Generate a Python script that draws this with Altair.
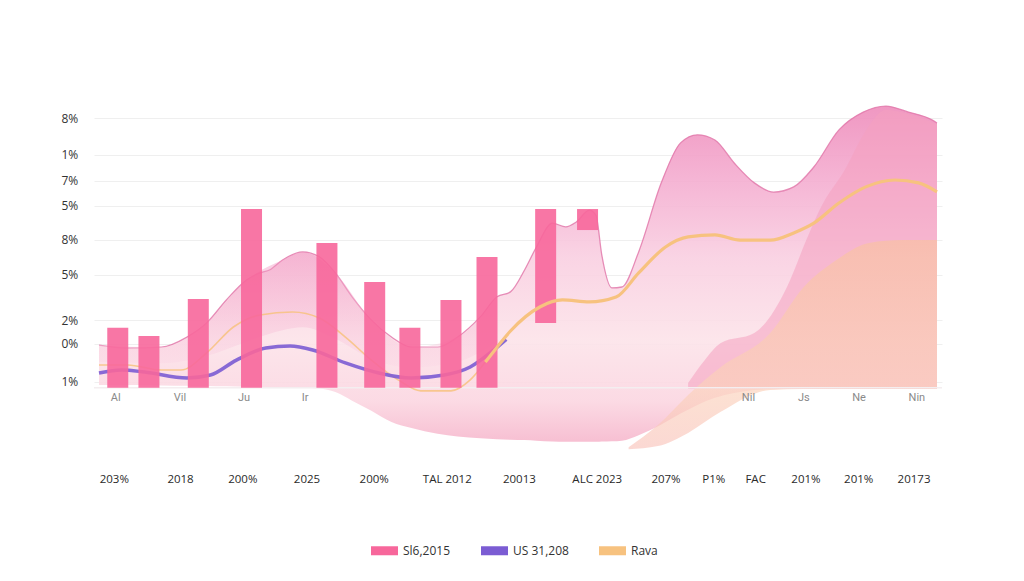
import json
import altair as alt
import pandas as pd

FONT = "Open Sans"

# ---------------- axis ticks / labels ----------------
y_tick_vals = [93.7, 80.9, 71.9, 63.2, 51.4, 39.2, 23.5, 15.2, 2.0]
y_tick_labels = ["8%", "1%", "7%", "5%", "8%", "5%", "2%", "0%", "1%"]

x_tick_vals = [1.77, 9.67, 17.1, 24.76, 32.78, 41.5, 50.1, 59.4, 67.6, 73.3, 78.3, 84.3, 90.6, 97.2]
x_tick_labels = ["203%", "2018", "200%", "2025", "200%", "TAL 2012", "20013",
                 "ALC 2023", "207%", "P1%", "FAC", "201%", "201%", "20173"]

top_label_x = [2.0, 9.67, 17.3, 24.6, 77.5, 84.1, 90.7, 97.6]
top_labels = ["Al", "Vil", "Ju", "Ir", "Nil", "Js", "Ne", "Nin"]

series_names = ["Sl6,2015", "US 31,208", "Rava"]
series_colors = ["#f7679b", "#7b5cd3", "#f7c27f"]

# ---------------- bars ----------------
bar_x = [2.24, 5.96, 11.85, 18.2, 27.2, 32.9, 37.1, 42.0, 46.3, 53.3, 58.3]
bar_top = [20.8, 18.0, 30.8, 62.1, 50.3, 36.7, 20.8, 30.5, 45.4, 62.1, 62.1]
bar_bottom = [0, 0, 0, 0, 0, 0, 0, 0, 0, 22.5, 54.8]

# ---------------- main pink area ----------------
main_x = [0, 3.42, 7.43, 10.5, 12.85, 15.2, 17.6, 19.2, 20.4, 21.9, 24.3, 26.3, 28.2, 30.2,
          32.5, 34.9, 37.3, 40.4, 42.8, 45.5, 47.5, 49.1, 50.8, 52.2, 54.1, 55.7, 56.96,
          58.5, 59.3, 60.0, 61.2, 62.4, 64.4, 67.1, 69.4, 71.4, 73.5, 75.8, 78.2, 80.5,
          82.9, 85.3, 88.3, 91.2, 93.9, 96.6, 99.4, 100]
main_top = [14.8, 13.8, 14.1, 17.6, 22.5, 30.5, 37.4, 39.9, 41.0, 44.4, 47.2, 45.5, 39.9, 31.6,
            23.5, 17.6, 14.1, 14.1, 17.6, 24.6, 31.6, 33.3, 41.0, 48.9, 57.2, 55.9, 57.6,
            61.7, 60.0, 46.1, 34.7, 35.0, 47.2, 71.2, 85.1, 87.9, 86.1, 78.1, 71.2, 68.0,
            69.8, 76.7, 89.6, 95.8, 97.9, 95.8, 93.1, 92.0]
main_bottom = [0.9, 0.9, 0.8, 0.7, 0.6, 0.5, 0.3, 0.2, 0.2, 0.1, 0.0, -0.3, -1.5, -4.5,
               -8.0, -11.9, -14.0, -16.0, -17.0, -17.6, -17.9, -18.1, -18.2, -18.4, -18.7, -18.8, -18.8,
               -18.8, -18.8, -18.7, -18.6, -18.4, -16.5, -12.8, -9.0, -6.0, -3.5, -1.8, -0.8, -0.5,
               -0.45, -0.45, -0.45, -0.45, -0.45, -0.45, -0.45, -0.45]

# ---------------- left pink lobe (deeper pink band under the left hump) ----------------
lobe_x = [0, 7.43, 12.85, 17.6, 21.9, 24.3, 28.2, 32.5, 37.3, 42.8, 47.5]
lobe_top = [14.8, 14.1, 22.5, 37.4, 44.4, 47.2, 39.9, 23.5, 14.1, 17.6, 31.6]
lobe_bottom = [9.0, 8.5, 11.0, 16.0, 20.0, 21.0, 17.0, 10.0, 7.0, 9.0, 16.0]

# ---------------- right pink band ----------------
band_x = [70.3, 72.3, 74.2, 78.2, 82.1, 84.4, 85.97, 89.2, 91.2, 93.9, 96.6, 100]
band_top = [1.6, 9.6, 15.5, 19.0, 35.0, 51.3, 61.7, 76.7, 87.8, 96.5, 95.1, 91.6]
band_bottom = [-0.45] * 12

# ---------------- peach area ----------------
peach_x = [63.2, 66.7, 70.3, 74.2, 80.1, 84.1, 88.0, 91.9, 95.9, 100]
peach_top = [-20.7, -13.0, -2.5, 7.2, 19.0, 35.0, 44.4, 50.3, 51.3, 51.3]
peach_bottom = [-21.4, -20.3, -15.7, -8.4, -0.8, -0.45, -0.45, -0.45, -0.45, -0.45]

# ---------------- lines ----------------
orange_thin_x = [0, 3.42, 7.43, 9.79, 12.85, 16.04, 19.22, 23.1, 26.3, 29.4, 32.5, 35.7, 38.4, 42.0, 44.3, 46.1]
orange_thin_y = [7.9, 7.9, 6.15, 6.15, 12.1, 21.1, 25.3, 26.3, 24.2, 17.6, 9.6, 2.7, -1.1, -1.1, 2.7, 8.9]

orange_x = [46.1, 47.5, 49.1, 52.6, 55.3, 58.5, 61.7, 64.4, 67.6, 70.3, 73.5, 76.5, 80.1,
            82.9, 85.3, 88.3, 91.5, 95.0, 97.8, 100]
orange_y = [8.9, 14.1, 19.7, 28.05, 30.5, 29.8, 31.5, 39.9, 48.9, 52.4, 53.1, 51.3, 51.3,
            53.8, 57.2, 64.2, 69.8, 72.2, 71.2, 68.1]

purple_x = [0, 2.71, 5.42, 10.5, 13.3, 16.4, 19.9, 22.8, 25.5, 29.4, 33.4, 37.3, 41.2, 44.3, 47.1, 48.6]
purple_y = [5.1, 6.15, 5.46, 3.37, 4.4, 9.6, 13.8, 14.5, 13.1, 8.6, 5.1, 3.37, 4.4, 7.2, 13.1, 16.8]

# ---------------- build ----------------
xs = alt.Scale(domain=[0, 100], nice=False, zero=False)
ys = alt.Scale(domain=[-22, 100], nice=False, zero=False)

y_expr = f"{json.dumps(y_tick_labels)}[indexof({json.dumps(y_tick_vals)}, datum.value)]"
x_expr = f"{json.dumps(x_tick_labels)}[indexof({json.dumps(x_tick_vals)}, datum.value)]"

x_axis = alt.Axis(values=x_tick_vals, labelExpr=x_expr, title=None, domain=False, ticks=False,
                  tickSize=0, grid=False, labelPadding=22, labelFont=FONT, labelFontSize=11.5,
                  labelColor="#2a2a2a", labelOverlap=False, labelFlush=False)
y_axis = alt.Axis(values=y_tick_vals, labelExpr=y_expr, title=None, domain=False, ticks=False,
                  tickSize=0, grid=True, gridColor="#efefef", gridWidth=1, labelAlign="left",
                  labelBaseline="middle", labelPadding=33, labelFont=FONT, labelFontSize=12,
                  labelColor="#333333", labelOverlap=False, labelFlush=False)

main_df = pd.DataFrame({"x": main_x, "top": main_top, "bottom": main_bottom})
lobe_df = pd.DataFrame({"x": lobe_x, "top": lobe_top, "bottom": lobe_bottom})
band_df = pd.DataFrame({"x": band_x, "top": band_top, "bottom": band_bottom})
peach_df = pd.DataFrame({"x": peach_x, "top": peach_top, "bottom": peach_bottom})
bars_df = pd.DataFrame({"x": bar_x, "top": bar_top, "bottom": bar_bottom,
                        "series": [series_names[0]] * len(bar_x)})
othin_df = pd.DataFrame({"x": orange_thin_x, "y": orange_thin_y})
orange_df = pd.DataFrame({"x": orange_x, "y": orange_y})
purple_df = pd.DataFrame({"x": purple_x, "y": purple_y})
toplab_df = pd.DataFrame({"x": top_label_x, "label": top_labels, "y": [-3.6] * len(top_labels)})
base_df = pd.DataFrame({"y": [0]})

main_grad = alt.Gradient(
    gradient="linear", x1=1, x2=1, y1=0, y2=1,
    stops=[alt.GradientStop(color="#ee8cbb", offset=0.0),
           alt.GradientStop(color="#f4add0", offset=0.22),
           alt.GradientStop(color="#f9cfe1", offset=0.45),
           alt.GradientStop(color="#fce3e9", offset=0.7),
           alt.GradientStop(color="#fbd6e1", offset=0.88),
           alt.GradientStop(color="#f6b8cd", offset=1.0)])

lobe_grad = alt.Gradient(
    gradient="linear", x1=1, x2=1, y1=0, y2=1,
    stops=[alt.GradientStop(color="#f08fbd", offset=0.0),
           alt.GradientStop(color="#fbd9e6", offset=1.0)])

peach_grad = alt.Gradient(
    gradient="linear", x1=1, x2=1, y1=0, y2=1,
    stops=[alt.GradientStop(color="#f9c2a0", offset=0.0),
           alt.GradientStop(color="#fbd2ba", offset=0.7),
           alt.GradientStop(color="#f9c3bb", offset=1.0)])

main_area = alt.Chart(main_df).mark_area(
    interpolate="monotone", color=main_grad, opacity=0.9,
    line={"color": "#e27aab", "strokeWidth": 1.3, "opacity": 0.85}
).encode(
    x=alt.X("x:Q", scale=xs, axis=x_axis),
    y=alt.Y("top:Q", scale=ys, axis=y_axis),
    y2="bottom:Q",
)

lobe_area = alt.Chart(lobe_df).mark_area(
    interpolate="monotone", color=lobe_grad, opacity=0.45
).encode(x=alt.X("x:Q", scale=xs), y=alt.Y("top:Q", scale=ys), y2="bottom:Q")

band_area = alt.Chart(band_df).mark_area(
    interpolate="monotone", color="#f4a0bf", opacity=0.55
).encode(x=alt.X("x:Q", scale=xs), y=alt.Y("top:Q", scale=ys), y2="bottom:Q")

peach_area = alt.Chart(peach_df).mark_area(
    interpolate="monotone", color=peach_grad, opacity=0.65
).encode(x=alt.X("x:Q", scale=xs), y=alt.Y("top:Q", scale=ys), y2="bottom:Q")

base_rule = alt.Chart(base_df).mark_rule(color="#f4eef0", strokeWidth=1.5).encode(
    y=alt.Y("y:Q", scale=ys))

orange_thin = alt.Chart(othin_df).mark_line(
    interpolate="monotone", color=series_colors[2], strokeWidth=1.6, opacity=0.85
).encode(x=alt.X("x:Q", scale=xs), y=alt.Y("y:Q", scale=ys))

orange_line = alt.Chart(orange_df).mark_line(
    interpolate="monotone", color=series_colors[2], strokeWidth=3.2
).encode(x=alt.X("x:Q", scale=xs), y=alt.Y("y:Q", scale=ys))

purple_line = alt.Chart(purple_df).mark_line(
    interpolate="monotone", color=series_colors[1], strokeWidth=3.5, opacity=0.9
).encode(x=alt.X("x:Q", scale=xs), y=alt.Y("y:Q", scale=ys))

bars = alt.Chart(bars_df).mark_bar(size=21, opacity=0.9).encode(
    x=alt.X("x:Q", scale=xs),
    y=alt.Y("top:Q", scale=ys),
    y2="bottom:Q",
    color=alt.Color(
        "series:N",
        scale=alt.Scale(domain=series_names, range=series_colors),
        legend=alt.Legend(
            orient="none", legendX=277, legendY=437, direction="horizontal", title=None,
            symbolType="M-1,-0.333h2v0.667h-2z", symbolSize=729, symbolStrokeWidth=0,
            symbolOpacity=1, labelFont=FONT, labelFontSize=12, labelColor="#333333",
            labelOffset=5, columnPadding=30,
        ),
    ),
)

top_text = alt.Chart(toplab_df).mark_text(
    font="Roboto", fontSize=11, color="#8a8a8a", baseline="middle", align="center"
).encode(x=alt.X("x:Q", scale=xs), y=alt.Y("y:Q", scale=ys), text="label:N")

chart = alt.layer(
    main_area, lobe_area, band_area, peach_area, base_rule, orange_thin, purple_line, bars,
    orange_line, top_text
).properties(
    width=848, height=351, autosize="none",
    padding={"left": 86, "top": 92, "right": 60, "bottom": 114},
    background="white",
).configure_view(strokeWidth=0)

chart.save("out.html", embed_options={"renderer": "svg", "actions": False})
